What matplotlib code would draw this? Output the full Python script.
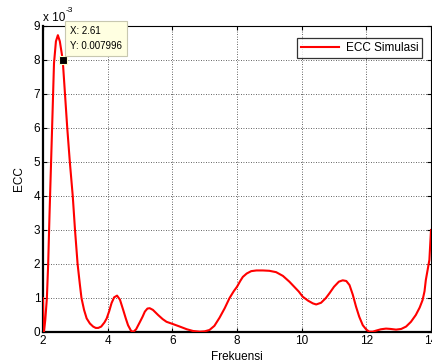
import matplotlib
matplotlib.use("Agg")
import matplotlib.pyplot as plt
from matplotlib.ticker import FuncFormatter

plt.rcParams['font.family'] = ['Liberation Sans', 'DejaVu Sans']

# Frequency (x) and ECC values (in units of 1e-3)
freq = [2.00, 2.01, 2.03, 2.07, 2.12, 2.16, 2.20, 2.25, 2.30, 2.34, 2.40, 2.46,
        2.52, 2.57, 2.61, 2.68, 2.75, 2.83, 2.92, 2.99, 3.07, 3.14, 3.19, 3.27,
        3.35, 3.45, 3.55, 3.63, 3.71, 3.80, 3.90, 3.97, 4.05, 4.12, 4.20, 4.29,
        4.38, 4.48, 4.56, 4.63, 4.72, 4.79, 4.88, 5.00, 5.08, 5.15, 5.23, 5.30,
        5.40, 5.56, 5.70, 5.82, 6.00, 6.23, 6.45, 6.64, 6.85, 7.00, 7.15, 7.30,
        7.46, 7.62, 7.77, 7.90, 8.00, 8.10, 8.18, 8.30, 8.44, 8.60, 8.80, 9.00,
        9.21, 9.42, 9.62, 9.78, 9.91, 10.03, 10.20, 10.35, 10.45, 10.60, 10.75,
        10.86, 11.00, 11.15, 11.27, 11.38, 11.48, 11.58, 11.68, 11.78, 11.89,
        12.00, 12.09, 12.20, 12.30, 12.45, 12.61, 12.75, 12.92, 13.08, 13.23,
        13.38, 13.53, 13.65, 13.74, 13.80, 13.84, 13.90, 13.95, 14.00]
ecc = [1.00, 0.40, 0.00, 0.35, 1.00, 2.00, 3.40, 5.00, 6.60, 7.90, 8.55, 8.73,
       8.55, 8.25, 7.996, 7.00, 6.00, 5.00, 4.00, 3.00, 2.00, 1.40, 1.00, 0.65,
       0.40, 0.25, 0.16, 0.12, 0.12, 0.16, 0.28, 0.40, 0.62, 0.85, 1.02, 1.07,
       0.95, 0.65, 0.40, 0.20, 0.04, 0.00, 0.08, 0.30, 0.45, 0.60, 0.69, 0.70,
       0.65, 0.50, 0.38, 0.30, 0.24, 0.16, 0.08, 0.03, 0.01, 0.02, 0.06, 0.18,
       0.42, 0.70, 1.00, 1.20, 1.33, 1.50, 1.62, 1.72, 1.79, 1.81, 1.81, 1.80,
       1.76, 1.65, 1.48, 1.32, 1.19, 1.04, 0.92, 0.84, 0.81, 0.86, 1.00, 1.14,
       1.33, 1.48, 1.52, 1.50, 1.38, 1.10, 0.75, 0.45, 0.20, 0.07, 0.01, 0.01,
       0.04, 0.08, 0.10, 0.09, 0.07, 0.09, 0.16, 0.30, 0.50, 0.72, 0.94, 1.20,
       1.53, 1.85, 2.12, 3.00]

tip_x = 2.61
tip_y = 0.007996
x_ticks = [2, 4, 6, 8, 10, 12, 14]
y_ticks = [0, 1, 2, 3, 4, 5, 6, 7, 8, 9]
series_label = "ECC Simulasi"

ecc_real = [v * 1e-3 for v in ecc]

fig = plt.figure(figsize=(4.32, 3.62), dpi=100)
ax = fig.add_axes([43 / 432, 30 / 362, 388 / 432, 306 / 362])

ax.plot(freq, ecc_real, color='#ff0000', lw=1.5, label=series_label, zorder=3)

ax.set_xlim(2, 14)
ax.set_ylim(0, 9e-3)
ax.set_xticks(x_ticks)
ax.set_yticks([t * 1e-3 for t in y_ticks])
ax.yaxis.set_major_formatter(FuncFormatter(lambda v, p: f"{v * 1e3:.0f}"))
ax.tick_params(direction='in', length=3, width=0.8, labelsize=8.5, pad=2,
               top=True, right=True)
ax.grid(True, color='#303030', linestyle=(0, (1, 2)), linewidth=0.6)
ax.set_axisbelow(True)

for s in ['left', 'bottom']:
    ax.spines[s].set_linewidth(1.6)
for s in ['top', 'right']:
    ax.spines[s].set_linewidth(0.8)

ax.set_xlabel("Frekuensi", fontsize=8.5, labelpad=3)
ax.set_ylabel("ECC", fontsize=8.5, labelpad=6)

fig.text(43 / 432, 1 - 21 / 362, "x 10", fontsize=8.5, ha='left', va='baseline')
fig.text(66 / 432, 1 - 12 / 362, "-3", fontsize=6, ha='left', va='baseline')

leg = ax.legend(loc='upper right', fontsize=8.5, frameon=True, fancybox=False,
                borderpad=0.35, handlelength=3.2, handletextpad=0.6,
                bbox_to_anchor=(0.993, 0.98))
leg.get_frame().set_edgecolor('black')
leg.get_frame().set_linewidth(0.9)

ax.plot([tip_x], [tip_y], marker='s', markersize=6, color='black',
        markeredgecolor='#ffffcc', markeredgewidth=0.8, zorder=5, clip_on=False)
ax.annotate(f"X: {tip_x}\nY: {tip_y}", xy=(tip_x, tip_y), xytext=(7, 9),
            textcoords='offset pixels', ha='left', va='bottom', fontsize=7,
            linespacing=1.6,
            bbox=dict(boxstyle='square,pad=0.5', fc='#ffffe1', ec='#c8c8b0', lw=0.8),
            annotation_clip=False, zorder=6)

fig.savefig("out.png", dpi=100)
